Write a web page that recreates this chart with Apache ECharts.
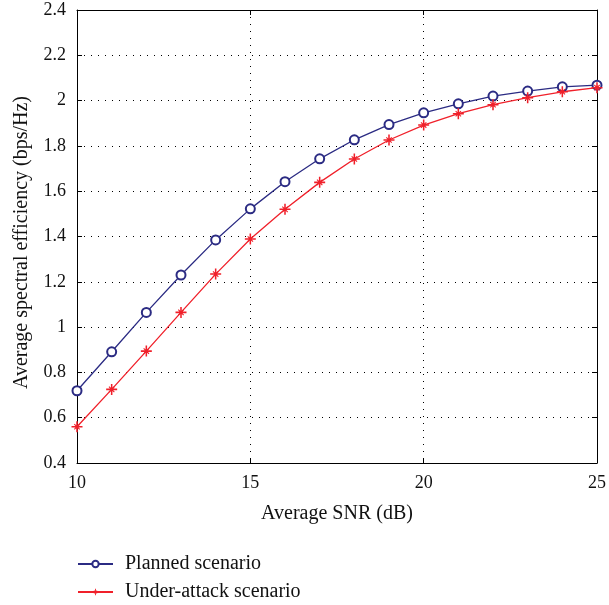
<!DOCTYPE html>
<html>
<head>
<meta charset="utf-8">
<script src="https://cdn.jsdelivr.net/npm/echarts@6/dist/echarts.min.js"></script>
<style>html,body{margin:0;padding:0;background:#fff}#c{width:609px;height:605px}</style>
</head>
<body>
<div id="c"></div>
<script>
const snr = [10, 11, 12, 13, 14, 15, 16, 17, 18, 19, 20, 21, 22, 23, 24, 25];
const planned = [0.719, 0.891, 1.065, 1.23, 1.385, 1.522, 1.642, 1.743, 1.827, 1.894, 1.946, 1.986, 2.02, 2.042, 2.061, 2.068];
const underAttack = [0.56, 0.725, 0.894, 1.065, 1.234, 1.389, 1.52, 1.639, 1.742, 1.826, 1.892, 1.942, 1.982, 2.013, 2.039, 2.057];
const seriesNames = ['Planned scenario', 'Under-attack scenario'];
const xTitle = 'Average SNR (dB)';
const yTitle = 'Average spectral efficiency (bps/Hz)';

const font = 'Liberation Serif';
const pair = (xs, ys) => xs.map((x, i) => [x, ys[i]]);
const plusPath = 'path://M4.3,0 H5.7 V4.3 H10 V5.7 H5.7 V10 H4.3 V5.7 H0 V4.3 H4.3 Z M2.2,2.9 L2.9,2.2 L5,4.3 L7.1,2.2 L7.8,2.9 L5.7,5 L7.8,7.1 L7.1,7.8 L5,5.7 L2.9,7.8 L2.2,7.1 L4.3,5 Z';

const chart = echarts.init(document.getElementById('c'), null, {renderer: 'canvas'});
const dotted = {show: true, lineStyle: {color: '#000', width: 1, type: [1, 6]}};
const axLine = {show: true, lineStyle: {color: '#000', width: 1}};
const ticksIn = {show: true, inside: true, length: 5, lineStyle: {color: '#000'}};
chart.setOption({
  animation: false,
  backgroundColor: '#fff',
  textStyle: {fontFamily: font},
  grid: {left: 77, right: 11, top: 10, bottom: 142, containLabel: false},
  legend: {
    orient: 'vertical', left: 77, top: 554, padding: 0, height: 55,
    itemGap: 8, itemWidth: 35, itemHeight: 8,
    textStyle: {fontFamily: font, fontSize: 20, color: '#111', padding: [0, 0, 0, 7]},
    data: seriesNames
  },
  xAxis: [{
    type: 'value', min: 10, max: 25, interval: 5, position: 'bottom',
    name: xTitle, nameLocation: 'middle', nameGap: 41,
    nameTextStyle: {fontFamily: font, fontSize: 20, color: '#111'},
    axisLine: axLine, axisTick: ticksIn, splitLine: dotted,
    axisLabel: {fontFamily: font, fontSize: 18, color: '#111', margin: 11}
  }, {
    type: 'value', min: 10, max: 25, interval: 5, position: 'top',
    axisLine: axLine, axisTick: ticksIn, splitLine: {show: false}, axisLabel: {show: false}
  }],
  yAxis: [{
    type: 'value', min: 0.4, max: 2.4, interval: 0.2, position: 'left',
    name: yTitle, nameLocation: 'middle', nameGap: 45,
    nameTextStyle: {fontFamily: font, fontSize: 20, color: '#111', padding: [0, 12, 0, 0]},
    axisLine: axLine, axisTick: ticksIn, splitLine: dotted,
    axisLabel: {fontFamily: font, fontSize: 18, color: '#111', margin: 11,
      formatter: v => String(Math.round(v * 10) / 10)}
  }, {
    type: 'value', min: 0.4, max: 2.4, interval: 0.2, position: 'right',
    axisLine: axLine, axisTick: ticksIn, splitLine: {show: false}, axisLabel: {show: false}
  }],
  series: [{
    name: seriesNames[0], type: 'line', data: pair(snr, planned),
    xAxisIndex: 0, yAxisIndex: 0,
    symbol: 'emptyCircle', symbolSize: 9, showAllSymbol: true,
    lineStyle: {color: '#2b2b83', width: 1.3},
    itemStyle: {color: '#2b2b83', borderWidth: 1.3}
  }, {
    name: seriesNames[1], type: 'line', data: pair(snr, underAttack),
    xAxisIndex: 0, yAxisIndex: 0,
    symbol: plusPath, symbolSize: 11, showAllSymbol: true,
    lineStyle: {color: '#f0202a', width: 1.3},
    itemStyle: {color: '#f0202a'}
  }]
});
</script>
</body>
</html>
